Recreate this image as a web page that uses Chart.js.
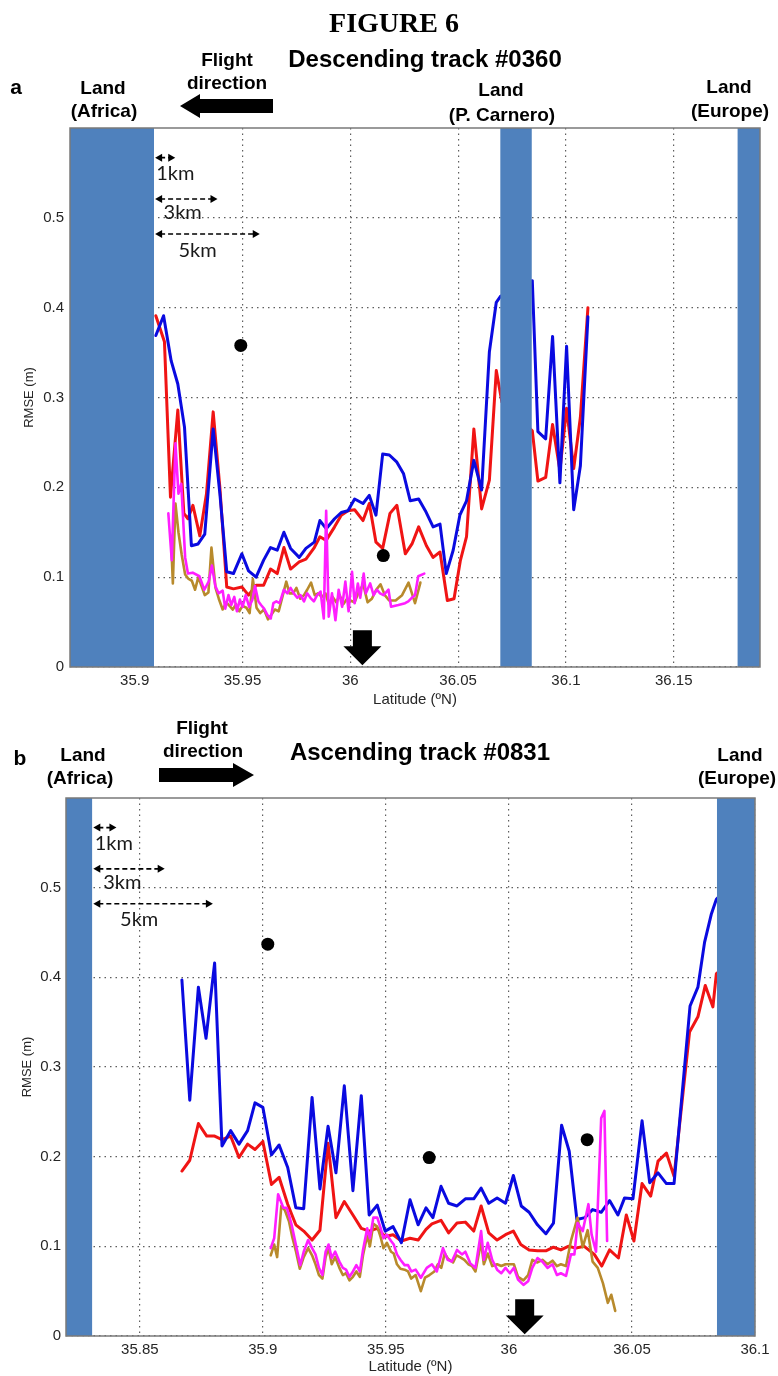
<!DOCTYPE html>
<html>
<head>
<meta charset="utf-8">
<script src="https://cdn.jsdelivr.net/npm/chart.js@4.4.1/dist/chart.umd.min.js"></script>
<style>
  html, body { margin: 0; padding: 0; background: #fff; }
  #page { position: relative; width: 778px; height: 1376px; overflow: hidden; background: #fff; }
  .wrap { position: absolute; left: 0; width: 778px; }
  #wrapA { top: 0; height: 715px; }
  #wrapB { top: 715px; height: 661px; }
  .lbl { position: absolute; transform: translate(-50%, -50%); white-space: nowrap;
         font-family: "Liberation Sans", Arial, sans-serif; font-weight: bold; color: #000;
         line-height: 1; font-size: 19px; }
  .big { font-size: 24px; }
  .fig { font-family: "Liberation Serif", "Times New Roman", serif; font-size: 28px; }
  .panel { font-size: 21px; }
</style>
</head>
<body>
<div id="page">
  <div class="wrap" id="wrapA"><canvas id="chartA" width="778" height="715"></canvas></div>
  <div class="wrap" id="wrapB"><canvas id="chartB" width="778" height="661"></canvas></div>

  <div class="lbl fig" style="left:394px; top:23px;">FIGURE 6</div>

  <div class="lbl big" style="left:425px; top:59px;">Descending track #0360</div>
  <div class="lbl panel" style="left:16px; top:86px;">a</div>
  <div class="lbl" style="left:103px; top:87px;">Land</div>
  <div class="lbl" style="left:104px; top:110px;">(Africa)</div>
  <div class="lbl" style="left:227px; top:59px;">Flight</div>
  <div class="lbl" style="left:227px; top:82px;">direction</div>
  <div class="lbl" style="left:501px; top:89px;">Land</div>
  <div class="lbl" style="left:502px; top:114px;">(P. Carnero)</div>
  <div class="lbl" style="left:729px; top:86px;">Land</div>
  <div class="lbl" style="left:730px; top:110px;">(Europe)</div>

  <div class="lbl big" style="left:420px; top:752px;">Ascending track #0831</div>
  <div class="lbl panel" style="left:20px; top:757px;">b</div>
  <div class="lbl" style="left:83px; top:754px;">Land</div>
  <div class="lbl" style="left:80px; top:777px;">(Africa)</div>
  <div class="lbl" style="left:202px; top:727px;">Flight</div>
  <div class="lbl" style="left:203px; top:750px;">direction</div>
  <div class="lbl" style="left:740px; top:754px;">Land</div>
  <div class="lbl" style="left:737px; top:777px;">(Europe)</div>
</div>

<script>
// --- shared axis values ---
const Y_MAX = 0.6;
const Y_TICKS = [0, 0.1, 0.2, 0.3, 0.4, 0.5];
const Y_LABELS = ['0', '0.1', '0.2', '0.3', '0.4', '0.5'];

// --- panel a: descending track #0360 ---
const A_X_RANGE = [35.87, 36.19];
const A_X_TICKS = [35.9, 35.95, 36, 36.05, 36.1, 36.15];
const A_X_LABELS = ['35.9', '35.95', '36', '36.05', '36.1', '36.15'];
const A_LAND = [[35.87, 35.909], [36.0695, 36.0842], [36.1795, 36.19]];
const A_COAST = 35.909;
const A_ARROW_LAT = 36.0056;
const A_DOTS = [[35.9492, 0.358], [36.0153, 0.124]];

const A_BLUE = [
  [35.9098,0.369],[35.9134,0.391],[35.9169,0.341],[35.9200,0.315],[35.9231,0.267],[35.9263,0.135],
  [35.9294,0.137],[35.9325,0.148],[35.9364,0.265],[35.9395,0.193],[35.9427,0.106],[35.9458,0.104],
  [35.9497,0.126],[35.9528,0.107],[35.9563,0.100],[35.9598,0.119],[35.9630,0.133],[35.9661,0.130],
  [35.9692,0.150],[35.9723,0.132],[35.9763,0.122],[35.9794,0.132],[35.9833,0.139],[35.9859,0.163],
  [35.9888,0.154],[35.9927,0.165],[35.9958,0.172],[35.9989,0.174],[36.0020,0.187],[36.0059,0.182],
  [36.0088,0.191],[36.0119,0.169],[36.0150,0.237],[36.0181,0.236],[36.0216,0.228],[36.0247,0.215],
  [36.0278,0.185],[36.0317,0.187],[36.0348,0.174],[36.0384,0.156],[36.0416,0.159],[36.0445,0.104],
  [36.0477,0.130],[36.0508,0.169],[36.0539,0.185],[36.0573,0.230],[36.0609,0.197],[36.0645,0.351],
  [36.0677,0.406],[36.0698,0.413],[36.0844,0.430],[36.0870,0.262],[36.0906,0.254],[36.0938,0.368],
  [36.0972,0.205],[36.1003,0.357],[36.1036,0.175],[36.1067,0.224],[36.1102,0.390]
];
const A_RED = [
  [35.9098,0.391],[35.9138,0.362],[35.9166,0.189],[35.9200,0.286],[35.9228,0.171],[35.9247,0.165],
  [35.9270,0.180],[35.9302,0.146],[35.9333,0.193],[35.9364,0.284],[35.9395,0.200],[35.9427,0.089],
  [35.9458,0.087],[35.9497,0.089],[35.9528,0.080],[35.9563,0.091],[35.9598,0.091],[35.9630,0.109],
  [35.9661,0.104],[35.9692,0.133],[35.9723,0.109],[35.9763,0.117],[35.9794,0.120],[35.9833,0.133],
  [35.9859,0.145],[35.9888,0.141],[35.9927,0.156],[35.9958,0.169],[35.9989,0.174],[36.0020,0.175],
  [36.0059,0.163],[36.0088,0.182],[36.0119,0.139],[36.0150,0.132],[36.0184,0.171],[36.0216,0.180],
  [36.0255,0.126],[36.0286,0.137],[36.0317,0.156],[36.0353,0.135],[36.0384,0.122],[36.0416,0.128],
  [36.0450,0.074],[36.0481,0.076],[36.0510,0.118],[36.0539,0.145],[36.0573,0.265],[36.0609,0.176],
  [36.0645,0.208],[36.0677,0.330],[36.0703,0.295],[36.0844,0.263],[36.0870,0.207],[36.0906,0.211],
  [36.0938,0.270],[36.0972,0.219],[36.1003,0.288],[36.1036,0.221],[36.1067,0.278],[36.1102,0.400]
];
const A_MAGENTA = [
  [35.9156,0.171],[35.9172,0.119],[35.9189,0.249],[35.9203,0.193],[35.9216,0.204],[35.9234,0.122],
  [35.9247,0.104],[35.9269,0.105],[35.9300,0.101],[35.9323,0.086],[35.9343,0.095],[35.9358,0.113],
  [35.9374,0.090],[35.9389,0.082],[35.9408,0.085],[35.9420,0.065],[35.9435,0.080],[35.9448,0.069],
  [35.9462,0.078],[35.9474,0.062],[35.9488,0.075],[35.9500,0.067],[35.9515,0.080],[35.9531,0.067],
  [35.9546,0.075],[35.9558,0.090],[35.9574,0.073],[35.9586,0.069],[35.9600,0.065],[35.9615,0.058],
  [35.9631,0.054],[35.9643,0.071],[35.9657,0.073],[35.9672,0.071],[35.9692,0.086],[35.9708,0.082],
  [35.9723,0.088],[35.9738,0.082],[35.9754,0.077],[35.9769,0.080],[35.9785,0.073],[35.9800,0.082],
  [35.9815,0.077],[35.9831,0.073],[35.9846,0.080],[35.9862,0.084],[35.9877,0.054],[35.9888,0.174],
  [35.9900,0.056],[35.9915,0.082],[35.9931,0.052],[35.9946,0.086],[35.9962,0.067],[35.9977,0.095],
  [35.9992,0.062],[36.0008,0.106],[36.0020,0.071],[36.0035,0.093],[36.0046,0.077],[36.0062,0.104],
  [36.0072,0.082],[36.0092,0.093],[36.0108,0.080],[36.0123,0.086],[36.0138,0.082],[36.0154,0.080],
  [36.0177,0.086],[36.0189,0.067],[36.0223,0.069],[36.0254,0.071],[36.0269,0.073],[36.0285,0.077],
  [36.0300,0.080],[36.0315,0.101],[36.0343,0.104]
];
const A_BROWN = [
  [35.9170,0.135],[35.9177,0.093],[35.9189,0.182],[35.9203,0.150],[35.9218,0.125],[35.9234,0.103],
  [35.9250,0.098],[35.9265,0.096],[35.9280,0.086],[35.9295,0.100],[35.9310,0.090],[35.9325,0.080],
  [35.9342,0.083],[35.9356,0.133],[35.9375,0.088],[35.9390,0.076],[35.9408,0.064],[35.9425,0.072],
  [35.9440,0.068],[35.9455,0.064],[35.9470,0.070],[35.9485,0.062],[35.9500,0.068],[35.9518,0.066],
  [35.9533,0.060],[35.9548,0.098],[35.9565,0.066],[35.9582,0.060],[35.9600,0.064],[35.9618,0.053],
  [35.9633,0.058],[35.9650,0.064],[35.9668,0.062],[35.9685,0.078],[35.9703,0.095],[35.9718,0.082],
  [35.9735,0.082],[35.9750,0.088],[35.9768,0.076],[35.9785,0.080],[35.9800,0.086],[35.9818,0.094],
  [35.9835,0.080],[35.9850,0.082],[35.9868,0.078],[35.9885,0.082],[35.9900,0.070],[35.9918,0.078],
  [35.9935,0.072],[35.9950,0.080],[35.9968,0.070],[35.9985,0.076],[36.0000,0.074],[36.0020,0.072],
  [36.0040,0.084],[36.0060,0.092],[36.0080,0.072],[36.0100,0.076],[36.0120,0.086],[36.0140,0.092],
  [36.0160,0.080],[36.0180,0.074],[36.0210,0.074],[36.0240,0.080],[36.0270,0.094],[36.0300,0.071],
  [36.0325,0.094]
];

// --- panel b: ascending track #0831 ---
const B_X_RANGE = [35.82, 36.1];
const B_X_TICKS = [35.85, 35.9, 35.95, 36, 36.05, 36.1];
const B_X_LABELS = ['35.85', '35.9', '35.95', '36', '36.05', '36.1'];
const B_LAND = [[35.82, 35.8307], [36.0845, 36.1]];
const B_COAST = 35.8307;
const B_ARROW_LAT = 36.0064;
const B_DOTS = [[35.9020, 0.437], [35.9676, 0.199], [36.0318, 0.219]];

const B_BLUE = [
  [35.8671,0.397],[35.8703,0.263],[35.8738,0.389],[35.8769,0.332],[35.8804,0.416],[35.8834,0.212],
  [35.8869,0.229],[35.8903,0.214],[35.8938,0.229],[35.8968,0.260],[35.9000,0.255],[35.9035,0.202],
  [35.9066,0.213],[35.9101,0.188],[35.9134,0.143],[35.9166,0.142],[35.9200,0.266],[35.9232,0.164],
  [35.9265,0.234],[35.9297,0.182],[35.9331,0.279],[35.9366,0.162],[35.9400,0.268],[35.9432,0.135],
  [35.9465,0.146],[35.9497,0.117],[35.9529,0.122],[35.9563,0.104],[35.9598,0.152],[35.9631,0.124],
  [35.9663,0.143],[35.9691,0.132],[35.9724,0.167],[35.9755,0.148],[35.9789,0.145],[35.9823,0.153],
  [35.9857,0.153],[35.9887,0.165],[35.9918,0.148],[35.9952,0.154],[35.9986,0.148],[36.0018,0.179],
  [36.0050,0.145],[36.0082,0.138],[36.0116,0.124],[36.0150,0.114],[36.0181,0.126],[36.0214,0.235],
  [36.0245,0.206],[36.0276,0.130],[36.0309,0.132],[36.0340,0.141],[36.0375,0.138],[36.0409,0.151],
  [36.0443,0.135],[36.0470,0.154],[36.0504,0.153],[36.0541,0.240],[36.0572,0.171],[36.0606,0.182],
  [36.0640,0.170],[36.0671,0.170],[36.0736,0.368],[36.0768,0.389],[36.0795,0.439],[36.0822,0.470],
  [36.0843,0.487],[36.0870,0.495]
];
const B_RED = [
  [35.8671,0.184],[35.8703,0.196],[35.8738,0.237],[35.8772,0.223],[35.8804,0.223],[35.8834,0.219],
  [35.8869,0.223],[35.8903,0.199],[35.8938,0.214],[35.8968,0.208],[35.9000,0.217],[35.9035,0.169],
  [35.9066,0.177],[35.9101,0.147],[35.9134,0.124],[35.9166,0.117],[35.9200,0.107],[35.9232,0.118],
  [35.9265,0.215],[35.9297,0.132],[35.9331,0.150],[35.9366,0.135],[35.9400,0.120],[35.9432,0.117],
  [35.9465,0.120],[35.9497,0.111],[35.9529,0.113],[35.9563,0.106],[35.9598,0.109],[35.9631,0.107],
  [35.9663,0.119],[35.9687,0.125],[35.9724,0.129],[35.9755,0.115],[35.9789,0.126],[35.9823,0.127],
  [35.9857,0.117],[35.9887,0.145],[35.9918,0.115],[35.9952,0.107],[35.9986,0.113],[36.0018,0.117],
  [36.0048,0.102],[36.0082,0.096],[36.0116,0.095],[36.0150,0.095],[36.0181,0.099],[36.0211,0.096],
  [36.0241,0.100],[36.0272,0.098],[36.0306,0.100],[36.0347,0.091],[36.0377,0.078],[36.0409,0.096],
  [36.0445,0.087],[36.0477,0.135],[36.0508,0.106],[36.0541,0.170],[36.0576,0.156],[36.0606,0.195],
  [36.0640,0.204],[36.0671,0.178],[36.0734,0.339],[36.0768,0.356],[36.0798,0.391],[36.0829,0.367],
  [36.0843,0.404],[36.0870,0.410]
];
const B_MAGENTA = [
  [35.9032,0.098],[35.9046,0.109],[35.9062,0.158],[35.9083,0.143],[35.9097,0.143],[35.9106,0.135],
  [35.9117,0.124],[35.9134,0.102],[35.9152,0.079],[35.9166,0.094],[35.9184,0.107],[35.9200,0.098],
  [35.9214,0.091],[35.9228,0.076],[35.9242,0.068],[35.9255,0.094],[35.9267,0.102],[35.9280,0.087],
  [35.9294,0.094],[35.9311,0.083],[35.9325,0.076],[35.9338,0.074],[35.9352,0.066],[35.9366,0.072],
  [35.9380,0.079],[35.9394,0.072],[35.9407,0.096],[35.9424,0.120],[35.9435,0.109],[35.9449,0.132],
  [35.9465,0.132],[35.9479,0.120],[35.9490,0.109],[35.9504,0.113],[35.9521,0.106],[35.9532,0.102],
  [35.9545,0.091],[35.9559,0.085],[35.9576,0.079],[35.9590,0.079],[35.9603,0.072],[35.9621,0.074],
  [35.9642,0.065],[35.9666,0.076],[35.9687,0.080],[35.9707,0.072],[35.9732,0.098],[35.9751,0.085],
  [35.9768,0.083],[35.9789,0.096],[35.9809,0.091],[35.9823,0.094],[35.9843,0.081],[35.9864,0.076],
  [35.9887,0.117],[35.9898,0.085],[35.9914,0.104],[35.9932,0.085],[35.9952,0.074],[35.9969,0.070],
  [35.9986,0.076],[36.0004,0.070],[36.0020,0.076],[36.0037,0.063],[36.0059,0.057],[36.0078,0.061],
  [36.0095,0.076],[36.0116,0.087],[36.0136,0.083],[36.0157,0.076],[36.0177,0.080],[36.0195,0.068],
  [36.0211,0.070],[36.0232,0.067],[36.0252,0.091],[36.0266,0.091],[36.0279,0.126],[36.0300,0.117],
  [36.0323,0.147],[36.0336,0.113],[36.0354,0.094],[36.0375,0.243],[36.0388,0.251],[36.0399,0.106]
];
const B_BROWN = [
  [35.9032,0.090],[35.9046,0.102],[35.9058,0.088],[35.9075,0.145],[35.9090,0.140],[35.9106,0.128],
  [35.9120,0.110],[35.9134,0.095],[35.9150,0.075],[35.9166,0.088],[35.9184,0.098],[35.9200,0.090],
  [35.9214,0.080],[35.9228,0.068],[35.9242,0.064],[35.9255,0.088],[35.9267,0.098],[35.9280,0.080],
  [35.9294,0.088],[35.9311,0.076],[35.9325,0.068],[35.9338,0.070],[35.9352,0.062],[35.9366,0.066],
  [35.9380,0.072],[35.9394,0.066],[35.9407,0.090],[35.9424,0.112],[35.9435,0.100],[35.9449,0.125],
  [35.9465,0.122],[35.9479,0.110],[35.9490,0.098],[35.9504,0.104],[35.9521,0.094],[35.9532,0.092],
  [35.9545,0.080],[35.9559,0.075],[35.9576,0.074],[35.9590,0.072],[35.9603,0.064],[35.9621,0.068],
  [35.9642,0.050],[35.9659,0.065],[35.9677,0.068],[35.9697,0.072],[35.9711,0.080],[35.9725,0.076],
  [35.9739,0.092],[35.9753,0.086],[35.9773,0.082],[35.9787,0.090],[35.9801,0.088],[35.9819,0.085],
  [35.9835,0.080],[35.9850,0.078],[35.9864,0.072],[35.9887,0.105],[35.9898,0.080],[35.9914,0.092],
  [35.9932,0.078],[35.9952,0.080],[35.9969,0.078],[35.9986,0.080],[36.0004,0.080],[36.0020,0.080],
  [36.0037,0.066],[36.0059,0.062],[36.0078,0.068],[36.0095,0.085],[36.0116,0.082],[36.0136,0.085],
  [36.0157,0.080],[36.0177,0.084],[36.0195,0.078],[36.0211,0.080],[36.0232,0.078],[36.0252,0.106],
  [36.0279,0.132],[36.0300,0.099],[36.0320,0.118],[36.0340,0.083],[36.0361,0.076],[36.0382,0.059],
  [36.0402,0.037],[36.0416,0.046],[36.0432,0.028]
];

// --- styling ---
const COL_BLUE = '#0a0ae0';
const COL_RED = '#f01414';
const COL_MAGENTA = '#ff1eff';
const COL_BROWN = '#b88a2c';
const COL_LAND = '#4f81bd';
const TXT = '#262626';
const KM_DEG = 0.0098;  // ~degrees of latitude per km
const KM_ROWS = [
  { km: 1, y: 0.567, ly: 0.549, lx: 0.1 },
  { km: 3, y: 0.521, ly: 0.506, lx: 0.45 },
  { km: 5, y: 0.482, ly: 0.464, lx: 1.15 }
];

Chart.defaults.font.family = '"Liberation Sans", Arial, sans-serif';

const toXY = pts => pts.map(p => ({ x: p[0], y: p[1] }));

function seriesLine(pts, color, width, order) {
  return { data: toXY(pts), borderColor: color, borderWidth: width, pointRadius: 0,
           fill: false, tension: 0, borderJoinStyle: 'round', borderCapStyle: 'round', order: order };
}

function landBand(r) {
  return { data: [{ x: r[0], y: Y_MAX }, { x: r[1], y: Y_MAX }], borderWidth: 0,
           borderColor: 'rgba(0,0,0,0)', backgroundColor: COL_LAND, fill: 'origin',
           pointRadius: 0, order: 0 };
}

function arrowHead(ctx, x, y, dir) {
  ctx.beginPath();
  ctx.moveTo(x, y);
  ctx.lineTo(x - dir * 7, y - 4);
  ctx.lineTo(x - dir * 7, y + 4);
  ctx.closePath();
  ctx.fill();
}

const overlay = {
  id: 'overlay',
  afterDatasetsDraw(chart, args, o) {
    const { ctx, chartArea: a, scales: { x, y } } = chart;
    ctx.save();

    // axes box
    ctx.strokeStyle = '#7a7a7a';
    ctx.lineWidth = 1.5;
    ctx.strokeRect(a.left, a.top, a.right - a.left, a.bottom - a.top);

    // 1/3/5 km dashed double arrows from the coast
    ctx.fillStyle = '#000';
    ctx.strokeStyle = '#000';
    ctx.font = '20px Lato, "Open Sans", sans-serif';
    ctx.textBaseline = 'middle';
    ctx.textAlign = 'left';
    KM_ROWS.forEach(r => {
      const x1 = x.getPixelForValue(o.coast) + 1;
      const x2 = x.getPixelForValue(o.coast + r.km * KM_DEG);
      const yy = y.getPixelForValue(r.y);
      ctx.setLineDash([5, 3]);
      ctx.lineWidth = 1.6;
      ctx.beginPath();
      ctx.moveTo(x1 + 5, yy);
      ctx.lineTo(x2 - 5, yy);
      ctx.stroke();
      ctx.setLineDash([]);
      arrowHead(ctx, x1, yy, -1);
      arrowHead(ctx, x2, yy, 1);
      ctx.fillStyle = '#1a1a1a';
      ctx.fillText(r.km + 'km', x.getPixelForValue(o.coast + r.lx * KM_DEG), y.getPixelForValue(r.ly));
      ctx.fillStyle = '#000';
    });

    // thick down arrow on the axis
    const cx = x.getPixelForValue(o.arrowLat);
    const yTop = y.getPixelForValue(0.041);
    const yMid = y.getPixelForValue(0.023);
    const yTip = y.getPixelForValue(0.002);
    ctx.beginPath();
    ctx.moveTo(cx - 9.5, yTop);
    ctx.lineTo(cx + 9.5, yTop);
    ctx.lineTo(cx + 9.5, yMid);
    ctx.lineTo(cx + 19, yMid);
    ctx.lineTo(cx, yTip);
    ctx.lineTo(cx - 19, yMid);
    ctx.lineTo(cx - 9.5, yMid);
    ctx.closePath();
    ctx.fill();

    // flight direction arrow (above the plot)
    const f = o.flight;
    ctx.beginPath();
    ctx.moveTo(f.tail, f.cy - 7);
    ctx.lineTo(f.base, f.cy - 7);
    ctx.lineTo(f.base, f.cy - 12);
    ctx.lineTo(f.tip, f.cy);
    ctx.lineTo(f.base, f.cy + 12);
    ctx.lineTo(f.base, f.cy + 7);
    ctx.lineTo(f.tail, f.cy + 7);
    ctx.closePath();
    ctx.fill();

    ctx.restore();
  }
};

function buildChart(id, p) {
  const datasets = [
    ...p.land.map(landBand),
    { data: toXY(p.dots), showLine: false, pointRadius: 6.5, pointBackgroundColor: '#000',
      pointBorderWidth: 0, order: 1 },
    seriesLine(p.magenta, COL_MAGENTA, 2.6, 2),
    seriesLine(p.brown, COL_BROWN, 2.6, 3),
    seriesLine(p.blue, COL_BLUE, 3, 4),
    seriesLine(p.red, COL_RED, 3, 5)
  ];
  const gridOpts = { color: '#5e5e5e', lineWidth: 1.2, drawTicks: false };
  const borderOpts = { display: false, dash: [1.5, 4] };
  return new Chart(document.getElementById(id).getContext('2d'), {
    type: 'line',
    data: { datasets },
    options: {
      responsive: false,
      animation: false,
      events: [],
      layout: { padding: { top: p.top, right: p.right, left: 0, bottom: 0 } },
      scales: {
        x: {
          type: 'linear', min: p.xRange[0], max: p.xRange[1],
          afterBuildTicks: s => { s.ticks = p.xTicks.map(v => ({ value: v })); },
          afterFit: s => { s.height = p.axisH; },
          ticks: { callback: (v, i) => p.xLabels[i], autoSkip: false, maxRotation: 0,
                   padding: 5, color: TXT, font: { size: 15 } },
          grid: gridOpts, border: borderOpts,
          title: { display: true, text: 'Latitude (ºN)', color: TXT, font: { size: 15 },
                   padding: { top: 0, bottom: p.xTitlePad } }
        },
        y: {
          min: 0, max: Y_MAX,
          afterBuildTicks: s => { s.ticks = Y_TICKS.map(v => ({ value: v })); },
          afterFit: s => { s.width = p.left; },
          ticks: { callback: (v, i) => Y_LABELS[i], padding: p.yPad, color: TXT, font: { size: 15 } },
          grid: gridOpts, border: borderOpts,
          title: { display: true, text: 'RMSE (m)', color: TXT, font: { size: 13 },
                   padding: { top: p.yTitlePad, bottom: 0 } }
        }
      },
      plugins: {
        legend: { display: false },
        tooltip: { enabled: false },
        overlay: { coast: p.coast, arrowLat: p.arrowLat, flight: p.flight }
      }
    },
    plugins: [overlay]
  });
}

buildChart('chartA', {
  xRange: A_X_RANGE, xTicks: A_X_TICKS, xLabels: A_X_LABELS, land: A_LAND, dots: A_DOTS,
  blue: A_BLUE, red: A_RED, magenta: A_MAGENTA, brown: A_BROWN,
  coast: A_COAST, arrowLat: A_ARROW_LAT,
  top: 128, right: 18, left: 70, axisH: 48, xTitlePad: 6, yPad: 6, yTitlePad: 22,
  flight: { tip: 180, base: 200, tail: 273, cy: 106 }
});

buildChart('chartB', {
  xRange: B_X_RANGE, xTicks: B_X_TICKS, xLabels: B_X_LABELS, land: B_LAND, dots: B_DOTS,
  blue: B_BLUE, red: B_RED, magenta: B_MAGENTA, brown: B_BROWN,
  coast: B_COAST, arrowLat: B_ARROW_LAT,
  top: 83, right: 23, left: 66, axisH: 40, xTitlePad: 0, yPad: 5, yTitlePad: 20,
  flight: { tip: 254, base: 233, tail: 159, cy: 60 }
});
</script>
</body>
</html>
